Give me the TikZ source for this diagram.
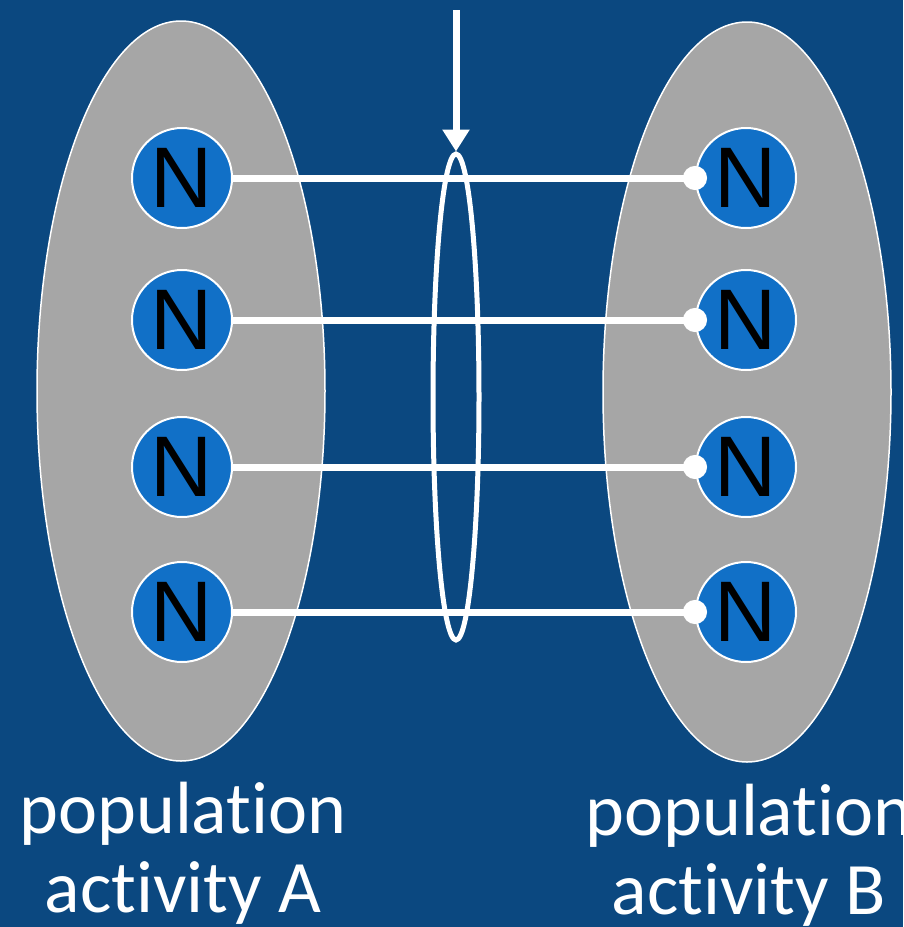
\documentclass[tikz,border=0pt]{standalone}
\usepackage{xcolor}
\usepackage{tikz}
\usepackage{fontspec}
\usetikzlibrary{shapes.geometric,arrows.meta}
\newfontfamily\popfont[Ligatures=NoCommon]{Carlito}
\newfontfamily\neurfont{Liberation Sans}
\definecolor{popbg}{HTML}{0B4880}
\definecolor{popgray}{HTML}{A6A6A6}
\definecolor{neurblue}{HTML}{1170C7}

\begin{document}
\begin{tikzpicture}[x=1pt, y=-1pt,
    popcloud/.style={ellipse, draw=white, line width=1.5pt, fill=popgray,
      minimum width=288pt, minimum height=740pt, inner sep=0pt},
    neuron/.style={circle, draw=white, line width=2pt, fill=neurblue,
      minimum size=100pt, inner sep=0pt,
      font=\neurfont\fontsize{86}{86}\selectfont, text=black},
    synline/.style={white, line width=7pt,
      -{Circle[length=24pt]}, shorten >=-12pt},
    poplabel/.style={align=center, text=white, inner sep=0pt,
      font=\popfont\fontsize{74}{79}\selectfont}]
    \useasboundingbox[fill=popbg] (0,0) rectangle (903,927);
    % two populations
    \node[popcloud] (popA) at (181,391) {};
    \node[popcloud] (popB) at (747,392) {};
    % neurons
    \foreach \i/\y in {1/178, 2/320, 3/467, 4/612} {
      \node[neuron] (nA\i) at (182,\y) {N};
      \node[neuron] (nB\i) at (746,\y) {N};
    }
    % projections
    \foreach \i in {1,...,4}
      \draw[synline] (nA\i.east) -- (nB\i.west);
    % bundle with the incoming arrow
    \node[ellipse, draw=white, line width=5pt, minimum width=46pt,
      minimum height=486pt, inner sep=0pt] (bundle) at (456,397) {};
    \coordinate (input) at (456,10);
    \draw[white, line width=7pt, -{Triangle[width=26pt, length=22pt]}]
      (input) -- (bundle.north);
    % labels
    \node[poplabel] (labA) at (183,853) {population\\activity A};
    \node[poplabel] (labB) at (749,855) {population\\activity B};
  \end{tikzpicture}
\end{document}
